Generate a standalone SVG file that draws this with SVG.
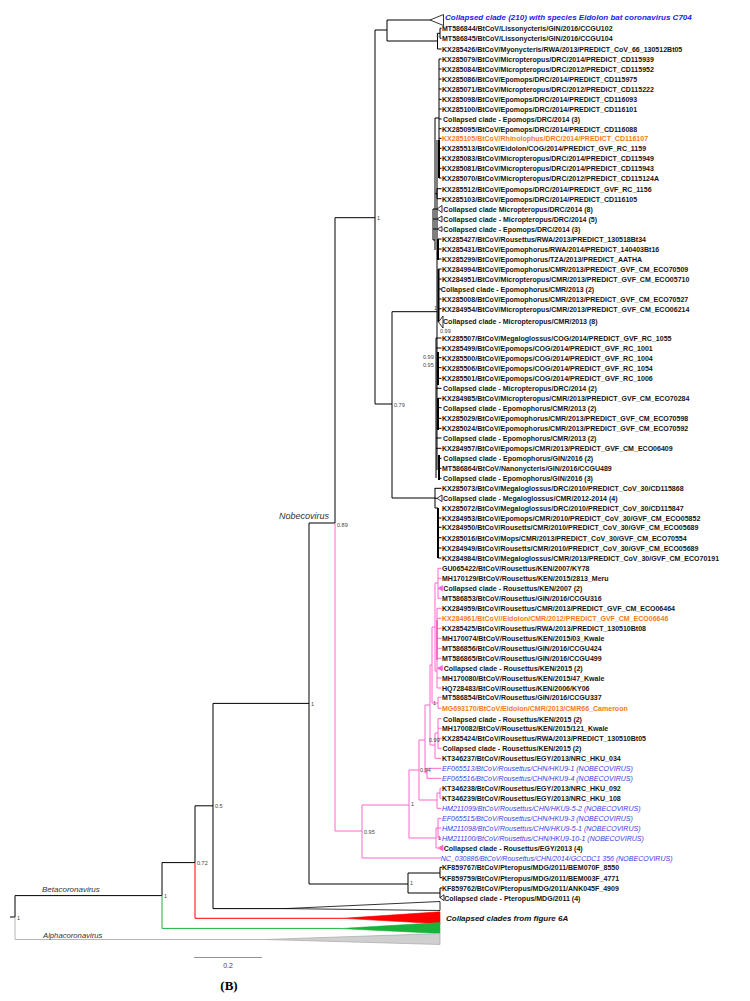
<svg xmlns="http://www.w3.org/2000/svg" width="750" height="1001" viewBox="0 0 750 1001">
<style>
.lb{font-family:"Liberation Sans",Arial,sans-serif;font-size:8px;font-weight:bold;fill:#151515}
.or{fill:#f47b20}
.bl{font-weight:normal;font-style:italic;fill:#3a3ae6}
.sp{font-family:"Liberation Sans",Arial,sans-serif;font-size:5.5px;fill:#444}
.cl{font-family:"Liberation Sans",Arial,sans-serif;font-style:italic;fill:#333}
.k{stroke:#000;stroke-width:1;fill:none}
.k2{stroke:#000;stroke-width:2;fill:none}
.p{stroke:#ff66cc;stroke-width:1;fill:none}
.p2{stroke:#ff66cc;stroke-width:2;fill:none}
.tk{fill:#fff;stroke:#000;stroke-width:0.8}
.tp{fill:#ff66cc;stroke:#ff66cc;stroke-width:0.6}
</style>
<rect width="750" height="1001" fill="#fff"/>
<g id="connectors">
<path class="k" d="M10 917H15 M15 895.6V917 M15 895.6H162 M162 862.6V895.6 M162 862.6H195 M195 805.8V862.6 M195 805.8H213 M213 703.4V908.6 M213 703.4H309 M213 908.6H285 M309 523V884 M309 884H408 M309 523H335 M335 217.7V523 M335 217.7H375 M375 30V404 M375 30H387 M387 20V41 M387 20H430 M387 41H437.5 M437.5 33.3V49 M437.5 33.3H440 M440 28.3V38.3 M440 28.3H441.5 M440 38.3H441.5 M437.5 49H441.5 M375 404H392 M392 311.7V498 M392 311.7H437 M392 498H435"/>
<path class="k" d="M439 59V178 M439 59H441.5 M439 69H441.5 M439 79H441.5 M439 89H441.5 M439 99.3H441.5 M439 109H441.5 M439 119H441.5 M439 128.7H441.5 M439 138.3H441.5 M439 148.3H441.5 M439 158.3H441.5 M439 168.3H441.5 M439 178H441.5 M435 118V250 M435 118H439 M437 188.7V198.7 M435 193.7H437 M437 188.7H441.5 M437 198.7H441.5 M433 209V240 M433 209H437 M433 219H437 M433 229H437 M433 240H435 M437 140V470 M438 259H441.5 M438 239H441.5 M438 249H441.5"/>
<path class="k2" d="M438 239V260 M438.5 269V322 M438 352V385 M438 398V430 M439 455V480 M438 508V558 M439 140V178"/>
<path class="k" d="M438.5 269H441.5 M438.5 279H441.5 M438.5 289H441.5 M438.5 299H441.5 M438.5 308.7H441.5 M436 338V478 M436 338H441.5 M436 348H441.5 M438 357.7H441.5 M438 367.7H441.5 M438 378.3H441.5 M436 388.3H441.5 M438 398.3H441.5 M438 407.7H441.5 M438 418.3H441.5 M438 428.3H441.5 M436 438H441.5 M436 448.3H441.5 M439 458.3H441.5 M439 468.3H441.5 M439 478.3H441.5 M435 488V508 M435 488.3H441.5 M435 498.3H437 M435 508H438 M438 518H441.5 M438 527.3H441.5 M438 537.7H441.5 M438 548H441.5 M438 558H441.5 M408 873V893 M408 873H440 M440 867.3V877.7 M440 867.3H442 M440 877.7H442 M408 893H440 M440 888V898 M440 888H442"/>
<polygon class="tk" points="430,20 443.5,14.5 443.5,25.5"/>
<polygon class="tk" points="437,209 442,205.5 442,212.5"/>
<polygon class="tk" points="437,219 442,216 442,222"/>
<polygon class="tk" points="437,229 442,226.5 442,231.5"/>
<polygon class="tk" points="438.5,322 443,316 443,328"/>
<polygon class="tk" points="437,498.3 442,495 442,501.6"/>
<polygon class="tk" points="440,897.7 444,894.7 444,900.7"/>
<path class="p" d="M335 523V831 M335 831H362 M362 805V858 M362 805H409 M362 858H441 M409 770V838 M409 838H436 M436 828V848 M436 828H438 M438 818.3V838 M438 818.3H441.5 M438 828H441.5 M438 838H441.5 M436 848H438 M409 770H419 M419 740V800 M419 800H437 M437 793V808.3 M437 793H440 M440 788.3V798.3 M440 788.3H441.5 M440 798.3H441.5 M437 808.3H441.5 M419 740H425 M425 705V773 M425 773H427 M427 768.3V778.3 M427 768.3H441.5 M427 778.3H441.5 M425 705H430 M430 665V745 M430 745H435 M435 733V758.3 M435 733H438 M438 718.7V748.3 M438 718.7H441.5 M438 728.3H441.5 M438 738.3H441.5 M438 748.3H441.5 M435 758.3H441.5 M430 665H432 M432 627V703 M432 703H438 M438 697.3V708.3 M438 697.3H441.5 M438 708.3H441.5 M432 627H435 M435 583V671 M435 583H438 M438 568.3V598.3 M438 568.3H441.5 M438 578.3H441.5 M438 598.3H441.5 M435 671H437 M437 608.3V688 M437 608.3H441.5 M437 618.3H441.5 M437 628.3H441.5 M437 638.3H441.5 M437 648.3H441.5 M437 658.3H441.5 M437 678H441.5 M437 688H441.5"/>
<path class="p2" d="M437 620V660"/>
<polygon class="tp" points="438,588.3 442.5,585.5 442.5,591"/>
<polygon class="tp" points="437,668.3 442.5,665.5 442.5,671"/>
<polygon class="tp" points="438,848 443,845 443,851"/>
<path d="M195 862.6V918.3H343" stroke="#ff0000" stroke-width="1" fill="none"/>
<polygon points="343,918.3 440,911.8 440,923.8" fill="#ff0000" stroke="#ff0000" stroke-width="0.6"/>
<path d="M162 895.6V928.4H340" stroke="#19b33c" stroke-width="1" fill="none"/>
<polygon points="340,928.6 440,922.6 440,933.4" fill="#19b33c" stroke="#19b33c" stroke-width="0.6"/>
<path d="M15 917V939.5H265" stroke="#b5b5b5" stroke-width="1" fill="none"/>
<polygon points="265,939.5 440,933.5 440,944.5" fill="#cfcfcf" stroke="#a8a8a8" stroke-width="0.7"/>
<polygon class="tk" points="285,908.6 440,901.5 440,910.5"/>
</g>
<g id="supports">
<text class="sp" x="377" y="220">1</text>
<text class="sp" x="394" y="406.5">0.79</text>
<text class="sp" x="337" y="527">0.89</text>
<text class="sp" x="311" y="705.5">1</text>
<text class="sp" x="215" y="808">0.5</text>
<text class="sp" x="197" y="865">0.72</text>
<text class="sp" x="164" y="898">1</text>
<text class="sp" x="17" y="919.5">1</text>
<text class="sp" x="364" y="833.5">0.95</text>
<text class="sp" x="411" y="806">1</text>
<text class="sp" x="420" y="772">0.94</text>
<text class="sp" x="429" y="742">0.99</text>
<text class="sp" x="433" y="705">1</text>
<text class="sp" x="434" y="310">1</text>
<text class="sp" x="440" y="332.5" font-size="5">0.99</text>
<text class="sp" x="423" y="358.5">0.99</text>
<text class="sp" x="423" y="367">0.95</text>
<text class="sp" x="410" y="885">1</text>
<text class="sp" x="436" y="37">1</text>
<text class="sp" x="438" y="840">1</text>
</g>
<g id="clades">
<text class="cl" x="42" y="892" font-size="8">Betacoronavirus</text>
<text class="cl" x="43" y="937.5" font-size="7.7">Alphacoronavirus</text>
<text class="cl" x="279" y="519" font-size="9">Nobecovirus</text>
</g>
<g id="n1"><text x="445" y="20.3" font-family="Liberation Sans, Arial, sans-serif" font-size="8" font-weight="bold" font-style="italic" fill="#2222ee">Collapsed clade (210) with species Eidolon bat coronavirus C704</text></g>
<g id="n89"><text x="446" y="921.3" font-family="Liberation Sans, Arial, sans-serif" font-size="8" font-weight="bold" font-style="italic" fill="#111">Collapsed clades from figure 6A</text></g>
<g id="leaves" class="lb" transform="translate(442 0) scale(0.88 1)">
<g id="n2"><text x="0" y="31.3">MT586844/BtCoV/Lissonycteris/GIN/2016/CCGU102</text></g>
<g id="n3"><text x="0" y="41.3">MT586845/BtCoV/Lissonycteris/GIN/2016/CCGU104</text></g>
<g id="n4"><text x="0" y="52">KX285426/BtCoV/Myonycteris/RWA/2013/PREDICT_CoV_66_130512Bt05</text></g>
<g id="n5"><text x="0" y="62">KX285079/BtCoV/Micropteropus/DRC/2014/PREDICT_CD115939</text></g>
<g id="n6"><text x="0" y="72">KX285084/BtCoV/Micropteropus/DRC/2012/PREDICT_CD115952</text></g>
<g id="n7"><text x="0" y="82">KX285086/BtCoV/Epomops/DRC/2014/PREDICT_CD115975</text></g>
<g id="n8"><text x="0" y="92">KX285071/BtCoV/Micropteropus/DRC/2012/PREDICT_CD115222</text></g>
<g id="n9"><text x="0" y="102.3">KX285098/BtCoV/Epomops/DRC/2014/PREDICT_CD116093</text></g>
<g id="n10"><text x="0" y="112">KX285100/BtCoV/Epomops/DRC/2014/PREDICT_CD116101</text></g>
<g id="n11"><text x="1.2" y="122">Collapsed clade - Epomops/DRC/2014 (3)</text></g>
<g id="n12"><text x="0" y="131.7">KX285095/BtCoV/Epomops/DRC/2014/PREDICT_CD116088</text></g>
<g id="n13"><text class="or" x="0" y="141.3">KX285105/BtCoV/Rhinolophus/DRC/2014/PREDICT_CD116107</text></g>
<g id="n14"><text x="0" y="151.3">KX285513/BtCoV/Eidolon/COG/2014/PREDICT_GVF_RC_1159</text></g>
<g id="n15"><text x="0" y="161.3">KX285083/BtCoV/Micropteropus/DRC/2014/PREDICT_CD115949</text></g>
<g id="n16"><text x="0" y="171.3">KX285081/BtCoV/Micropteropus/DRC/2014/PREDICT_CD115943</text></g>
<g id="n17"><text x="0" y="181">KX285070/BtCoV/Micropteropus/DRC/2012/PREDICT_CD115124A</text></g>
<g id="n18"><text x="0" y="191.7">KX285512/BtCoV/Epomops/DRC/2014/PREDICT_GVF_RC_1156</text></g>
<g id="n19"><text x="0" y="201.7">KX285103/BtCoV/Epomops/DRC/2014/PREDICT_CD116105</text></g>
<g id="n20"><text x="1.5" y="212">Collapsed clade Micropteropus/DRC/2014 (8)</text></g>
<g id="n21"><text x="1.5" y="222">Collapsed clade - Micropteropus/DRC/2014 (5)</text></g>
<g id="n22"><text x="1.5" y="232">Collapsed clade - Epomops/DRC/2014 (3)</text></g>
<g id="n23"><text x="0" y="242">KX285427/BtCoV/Rousettus/RWA/2013/PREDICT_130518Bt34</text></g>
<g id="n24"><text x="0" y="252">KX285431/BtCoV/Epomophorus/RWA/2014/PREDICT_140403Bt16</text></g>
<g id="n25"><text x="0" y="262">KX285299/BtCoV/Epomophorus/TZA/2013/PREDICT_AATHA</text></g>
<g id="n26"><text x="0" y="272">KX284994/BtCoV/Epomophorus/CMR/2013/PREDICT_GVF_CM_ECO70509</text></g>
<g id="n27"><text x="0" y="282">KX284951/BtCoV/Micropteropus/CMR/2013/PREDICT_GVF_CM_ECO05710</text></g>
<g id="n28"><text x="-1.3" y="292">Collapsed clade - Epomophorus/CMR/2013 (2)</text></g>
<g id="n29"><text x="0" y="302">KX285008/BtCoV/Epomophorus/CMR/2013/PREDICT_GVF_CM_ECO70527</text></g>
<g id="n30"><text x="0" y="311.7">KX284954/BtCoV/Micropteropus/CMR/2013/PREDICT_GVF_CM_ECO06214</text></g>
<g id="n31"><text x="1.2" y="324.5">Collapsed clade - Micropteropus/CMR/2013 (8)</text></g>
<g id="n32"><text x="0" y="341">KX285507/BtCoV/Megaloglossus/COG/2014/PREDICT_GVF_RC_1055</text></g>
<g id="n33"><text x="0" y="351">KX285499/BtCoV/Epomops/COG/2014/PREDICT_GVF_RC_1001</text></g>
<g id="n34"><text x="0" y="360.7">KX285500/BtCoV/Epomops/COG/2014/PREDICT_GVF_RC_1004</text></g>
<g id="n35"><text x="0" y="370.7">KX285506/BtCoV/Epomops/COG/2014/PREDICT_GVF_RC_1054</text></g>
<g id="n36"><text x="0" y="381.3">KX285501/BtCoV/Epomops/COG/2014/PREDICT_GVF_RC_1006</text></g>
<g id="n37"><text x="1.2" y="391.3">Collapsed clade - Micropteropus/DRC/2014 (2)</text></g>
<g id="n38"><text x="0" y="401.3">KX284985/BtCoV/Micropteropus/CMR/2013/PREDICT_GVF_CM_ECO70284</text></g>
<g id="n39"><text x="1.2" y="410.7">Collapsed clade - Epomophorus/CMR/2013 (2)</text></g>
<g id="n40"><text x="0" y="421.3">KX285029/BtCoV/Epomophorus/CMR/2013/PREDICT_GVF_CM_ECO70598</text></g>
<g id="n41"><text x="0" y="431.3">KX285024/BtCoV/Epomophorus/CMR/2013/PREDICT_GVF_CM_ECO70592</text></g>
<g id="n42"><text x="1.2" y="441.2">Collapsed clade - Epomophorus/CMR/2013 (2)</text></g>
<g id="n43"><text x="0" y="451.3">KX284957/BtCoV/Epomops/CMR/2013/PREDICT_GVF_CM_ECO06409</text></g>
<g id="n44"><text x="1.5" y="461.3">Collapsed clade - Epomophorus/GIN/2016 (2)</text></g>
<g id="n45"><text x="0" y="471.3">MT586864/BtCoV/Nanonycteris/GIN/2016/CCGU489</text></g>
<g id="n46"><text x="1.2" y="481.3">Collapsed clade - Epomophorus/GIN/2016 (3)</text></g>
<g id="n47"><text x="0" y="491.3">KX285073/BtCoV/Megaloglossus/DRC/2010/PREDICT_CoV_30/CD115868</text></g>
<g id="n48"><text x="1.2" y="501.3">Collapsed clade - Megaloglossus/CMR/2012-2014 (4)</text></g>
<g id="n49"><text x="0" y="511">KX285072/BtCoV/Megaloglossus/DRC/2010/PREDICT_CoV_30/CD115847</text></g>
<g id="n50"><text x="0" y="521">KX284953/BtCoV/Epomops/CMR/2010/PREDICT_CoV_30/GVF_CM_ECO05852</text></g>
<g id="n51"><text x="0" y="530.3">KX284950/BtCoV/Rousetts/CMR/2010/PREDICT_CoV_30/GVF_CM_ECO05689</text></g>
<g id="n52"><text x="0" y="540.7">KX285016/BtCoV/Mops/CMR/2013/PREDICT_CoV_30/GVF_CM_ECO70554</text></g>
<g id="n53"><text x="0" y="551">KX284949/BtCoV/Rousetts/CMR/2010/PREDICT_CoV_30/GVF_CM_ECO05689</text></g>
<g id="n54"><text x="0" y="561">KX284984/BtCoV/Megaloglossus/CMR/2013/PREDICT_CoV_30/GVF_CM_ECO70191</text></g>
<g id="n55"><text x="0" y="571.3">GU065422/BtCoV/Rousettus/KEN/2007/KY78</text></g>
<g id="n56"><text x="0" y="581.3">MH170129/BtCoV/Rousettus/KEN/2015/2813_Meru</text></g>
<g id="n57"><text x="1.5" y="591.3">Collapsed clade - Rousettus/KEN/2007 (2)</text></g>
<g id="n58"><text x="0" y="601.3">MT586853/BtCoV/Rousettus/GIN/2016/CCGU316</text></g>
<g id="n59"><text x="0" y="611.3">KX284959/BtCoV/Rousettus/CMR/2013/PREDICT_GVF_CM_ECO06464</text></g>
<g id="n60"><text class="or" x="0" y="621.3">KX284961/BtCoV//Eidolon/CMR/2012/PREDICT_GVF_CM_ECO06646</text></g>
<g id="n61"><text x="0" y="631.3">KX285425/BtCoV/Rousettus/RWA/2013/PREDICT_130510Bt08</text></g>
<g id="n62"><text x="0" y="641.3">MH170074/BtCoV/Rousettus/KEN/2015/03_Kwale</text></g>
<g id="n63"><text x="0" y="651.3">MT586856/BtCoV/Rousettus/GIN/2016/CCGU424</text></g>
<g id="n64"><text x="0" y="661.3">MT586865/BtCoV/Rousettus/GIN/2016/CCGU499</text></g>
<g id="n65"><text x="2" y="671.3">Collapsed clade - Rousettus/KEN/2015 (2)</text></g>
<g id="n66"><text x="0" y="681">MH170080/BtCoV/Rousettus/KEN/2015/47_Kwale</text></g>
<g id="n67"><text x="0" y="691">HQ728483/BtCoV/Rousettus/KEN/2006/KY06</text></g>
<g id="n68"><text x="0" y="700.3">MT586854/BtCoV/Rousettus/GIN/2016/CCGU337</text></g>
<g id="n69"><text class="or" x="0" y="711.3">MG693170/BtCoV/Eidolon/CMR/2013/CMR66_Cameroon</text></g>
<g id="n70"><text x="1.2" y="721.7">Collapsed clade - Rousettus/KEN/2015 (2)</text></g>
<g id="n71"><text x="0" y="731.3">MH170082/BtCoV/Rousettus/KEN/2015/121_Kwale</text></g>
<g id="n72"><text x="0" y="741.3">KX285424/BtCoV/Rousettus/RWA/2013/PREDICT_130510Bt05</text></g>
<g id="n73"><text x="0.5" y="751.3">Collapsed clade - Rousettus/KEN/2015 (2)</text></g>
<g id="n74"><text x="0" y="761.3">KT346237/BtCoV/Rousettus/EGY/2013/NRC_HKU_034</text></g>
<g id="n75"><text class="bl" x="0" y="771.3">EF065513/BtCoV/Rousettus/CHN/HKU9-1 (NOBECOVIRUS)</text></g>
<g id="n76"><text class="bl" x="0" y="781.3">EF065516/BtCoV/Rousettus/CHN/HKU9-4 (NOBECOVIRUS)</text></g>
<g id="n77"><text x="0" y="791.3">KT346238/BtCoV/Rousettus/EGY/2013/NRC_HKU_092</text></g>
<g id="n78"><text x="0" y="801.3">KT346239/BtCoV/Rousettus/EGY/2013/NRC_HKU_108</text></g>
<g id="n79"><text class="bl" x="0" y="811.3">HM211099/BtCoV/Rousettus/CHN/HKU9-5-2 (NOBECOVIRUS)</text></g>
<g id="n80"><text class="bl" x="0" y="821.3">EF065515/BtCoV/Rousettus/CHN/HKU9-3 (NOBECOVIRUS)</text></g>
<g id="n81"><text class="bl" x="0" y="831">HM211098/BtCoV/Rousettus/CHN/HKU9-5-1 (NOBECOVIRUS)</text></g>
<g id="n82"><text class="bl" x="0" y="841">HM211100/BtCoV/Rousettus/CHN/HKU9-10-1 (NOBECOVIRUS)</text></g>
<g id="n83"><text x="2" y="851">Collapsed clade - Rousettus/EGY/2013 (4)</text></g>
<g id="n84"><text class="bl" x="-1.5" y="861">NC_030886/BtCoV/Rousettus/CHN/2014/GCCDC1 356 (NOBECOVIRUS)</text></g>
<g id="n85"><text x="0" y="870.3">KF859767/BtCoV/Pteropus/MDG/2011/BEM070F_8550</text></g>
<g id="n86"><text x="0" y="880.7">KF859759/BtCoV/Pteropus/MDG/2011/BEM003F_4771</text></g>
<g id="n87"><text x="0" y="891">KF859762/BtCoV/Pteropus/MDG/2011/ANK045F_4909</text></g>
<g id="n88"><text x="2.5" y="900.7">Collapsed clade - Pteropus/MDG/2011 (4)</text></g>
</g>
<g id="scale">
<path d="M194 957.5H262" stroke="#777" stroke-width="0.8"/>
<text x="228" y="968" text-anchor="middle" font-family="Liberation Sans, Arial, sans-serif" font-size="7" fill="#444">0.2</text>
</g>
<text x="229" y="990" text-anchor="middle" font-family="Liberation Serif, Times New Roman, serif" font-size="13" font-weight="bold" fill="#000">(B)</text>
</svg>
